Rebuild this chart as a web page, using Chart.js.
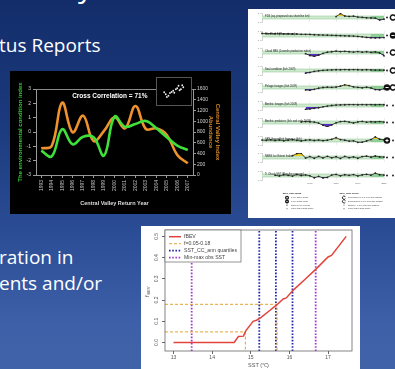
<!DOCTYPE html>
<html>
<head>
<meta charset="utf-8">
<title>Status Reports</title>
<script src="https://cdn.jsdelivr.net/npm/chart.js@4.4.1/dist/chart.umd.min.js"></script>
<style>
  html, body { margin: 0; padding: 0; }
  body {
    width: 395px; height: 369px; overflow: hidden; position: relative;
    background: linear-gradient(to bottom, #132d6a 0%, #1a387b 30%, #2a4c94 62%, #3e60a8 88%, #4063a8 100%);
    font-family: "Open Sans", sans-serif; color: #fff;
  }
  .txt { position: absolute; white-space: nowrap; }
  canvas { position: absolute; display: block; }
  #panel { position: absolute; left: 248px; top: 9px; width: 147px; height: 209px; background: #fff; overflow: hidden; }
</style>
</head>
<body>
<div class="txt" style="left:78px;top:-35px;font-size:30px">y</div>
<div class="txt" style="left:-1px;top:32px;font-size:19px">tus Reports</div>
<div class="txt" style="left:-1px;top:245px;font-size:19px;line-height:25.5px">ration in<br>ents and/or</div>

<canvas id="trend" width="221" height="143" style="left:10px;top:71px;background:#000"></canvas>
<canvas id="inset" width="34" height="27" style="left:157px;top:78px;background:#000;outline:1px solid #555"></canvas>
<div id="panel"></div>
<canvas id="sst" width="219" height="143" style="left:141px;top:226px;background:#fff"></canvas>

<script>
// -----------------------------------------------------------------
// Central Valley chart data
const returnYears = ['1993', '1994', '1995', '1996', '1997', '1998', '1999', '2000', '2001', '2002', '2003', '2004', '2005', '2006', '2007'];
const envIndex = [-1.3, -1.7, 0.2, -0.86, -0.33, -0.37, -1.65, 1.07, 0.37, 0.56, 0.77, 0.26, -0.37, -0.95, -1.26];
const cvAbundance = [496, 540, 1346, 794, 1104, 633, 819, 1073, 868, 1284, 856, 868, 744, 372, 217];

// inset scatter (index vs abundance)
const insetEnv = [-1.57, -1.36, -1.21, -1.0, -0.79, -0.57, -0.36, -0.21, 0.0, 0.18, 0.36, 0.5, 0.68, 0.86, 1.0];
const insetAbund = [745, 597, 395, 487, 690, 763, 855, 708, 966, 1040, 1224, 892, 966, 1260, 1113];

// -----------------------------------------------------------------
// SST / fBEV chart data
const sstPoints = [13, 14.57, 14.68, 14.81, 14.87, 15.06, 15.15, 15.26, 15.45, 15.67, 15.84, 15.92, 16.1, 16.4, 16.7, 17.0, 17.09, 17.47];
const fBev = [0, 0, 0.028, 0.03, 0.055, 0.1, 0.105, 0.117, 0.145, 0.177, 0.205, 0.21, 0.247, 0.297, 0.348, 0.403, 0.41, 0.5];
const fRange = [0.05, 0.18];
const sstAtF = [14.86, 15.68];
const sstQuartiles = [15.22, 15.65, 16.08];
const sstMinMax = [13.47, 16.68];
const sstAxis = [12.78, 17.62];
const fAxis = [-0.04, 0.53];
const sstLegend = ['fBEV', 'f=0.05-0.18', 'SST_CC_ann quartiles', 'Min-max obs SST'];

// -----------------------------------------------------------------
// indicator strips data (standardised, band = mean +/- 1 s.d.)
const stripYears = ['1955', '1957', '1959', '1961', '1963', '1965', '1967', '1969', '1971', '1973', '1975', '1977', '1979', '1981', '1983',
  '1985', '1987', '1989', '1991', '1993', '1995', '1997', '1999', '2001', '2003', '2005', '2007', '2009', '2011'];
const markYears = ['1977', '1989', '1999', '2011'];
const bandLo = -1;
const bandHi = 1;
const recentStart = 25;

const strip1 = [...Array(17).fill(null), 0.6, 2.6, 1.0, 0.7, 0.9, 0.3, 0.1, -0.2, -0.3, -0.4, -1.7, -1.1];
const strip2 = [1.4, 1.3, 1.3, 1.2, 1.2, 1.1, 1.1, 1.0, 1.0, 0.8, 0.8, 0.7, 0.5, 0.4, 0.3, 0.2, 0.1, 0.0, -0.1, -0.2, -0.3, -0.4, -0.6, -0.9, -1.3, -1.5, -1.6, -1.5, -1.4];
const strip3 = [...Array(10).fill(null), -0.8, -2.0, -2.6, -1.8, -0.6, 0.2, 0.5, 0.9, 0.6, 0.8, 0.5, 0.3, 0.6, 0.2, 0.5, 0.1, 0.4, -0.3, -2.2];
const strip4 = [...Array(10).fill(null), -1.8, -1.3, -0.6, -0.2, 0.1, 0.3, 0.4, 0.5, 0.5, 0.6, 0.5, 0.6, 0.5, 0.4, 0.5, 0.4, 0.3, 0.3, 0.2];
const strip5 = [...Array(10).fill(null), -1.6, -1.8, -1.2, -0.5, 0.0, 0.2, 0.1, 0.3, 0.9, 1.8, 1.3, 0.4, 0.1, -0.2, 0.2, -0.3, -1.4, -1.6, -0.8];
const strip6 = [...Array(10).fill(null), -2.6, -2.3, -1.9, -1.5, -0.9, -0.4, 0.0, 0.3, 0.4, 0.5, 0.6, 0.6, 0.5, 0.6, 0.5, 0.6, 0.5, 0.6, 0.5];
const strip7 = [...Array(9).fill(null), 0.4, 0.6, 0.5, 0.3, -0.4, -1.8, -2.9, -1.6, -0.2, 0.6, 0.8, 0.3, -0.3, 0.4, 0.7, 0.2, 0.5, 0.4, 0.6, 0.3];
const strip8 = [0.3, 0.1, 0.4, 0.0, 0.3, -0.2, 0.2, 0.5, 0.1, -0.3, 0.2, 0.4, 0.0, 0.3, -0.1, 0.2, 0.8, 1.9, 0.6, 0.2, -0.4, -0.2, -1.2, -1.1, -0.3, 0.6, 2.4, 0.9, 0.4];
const strip9 = [...Array(7).fill(null), 1.2, 2.6, 2.8, -0.4, 0.6, -0.5, 0.7, -0.3, 0.8, -0.2, 0.5, -0.6, 0.7, -0.1, 0.4, -0.5, 0.6, 0.9, 0.2, 1.0, 0.4, 0.3];
const strip10 = [...Array(3).fill(null), 0.2, -0.3, 0.5, 0.1, -0.4, 0.6, 0.0, 0.4, -0.2, -1.5, -0.6, -1.6, -1.3, 0.3, 0.7, -0.2, 0.5, 0.1, 0.6, -0.3, 0.4, 0.8, 0.2, 1.6, 0.5, 0.3];
const stripSeries = [strip1, strip2, strip3, strip4, strip5, strip6, strip7, strip8, strip9, strip10];

const stripTitles = [
  'FDS (sq. proposed sea shoreline km)', 'The Real E (Recruitment)', 'Cloud SBS (Juvenile production index)',
  'Seal condition (fish 2009)', 'Pelagic forages (fish 2009)', 'Benthic forages (fish 2009)',
  'Benthic predators (fish and crab 2009)', 'SBS Groundfish biomass (fish)', 'NBSS Ice Extent Index', 'Ti Chuck SST (Pan-the average)'
];
const stripMarks = [['dot', 'up'], ['dot', 'minus'], ['dot', 'up'], ['dot', 'up'], ['minus', 'down'],
  ['dot', 'dot'], ['dot', 'dot'], ['plus', 'dot'], ['dot', 'dot'], ['dot', 'dot']];

const meanLegend = ['1 s.d. above mean', '1 s.d. below mean', 'within 1 s.d. of mean', 'fewer than 5 data points'];
const trendLegend = ['increased by 1 s.d. over time window', 'decreased by 1 s.d. over time window', 'change < 1 s.d. over time window', 'fewer than 5 data points'];

Chart.defaults.font.family = '"Liberation Sans", Arial, sans-serif';

// -----------------------------------------------------------------
// helpers
function drawMark(ctx, kind, x, y, r) {
  ctx.save();
  ctx.fillStyle = '#111';
  ctx.strokeStyle = '#111';
  if (kind === 'dot') {
    ctx.beginPath(); ctx.arc(x, y, Math.max(0.6, r * 0.28), 0, Math.PI * 2); ctx.fill();
  } else if (kind === 'plus' || kind === 'minus') {
    ctx.beginPath(); ctx.arc(x, y, r, 0, Math.PI * 2); ctx.fill();
    ctx.strokeStyle = '#fff'; ctx.lineWidth = r * 0.3;
    ctx.beginPath(); ctx.moveTo(x - r * 0.5, y); ctx.lineTo(x + r * 0.5, y);
    if (kind === 'plus') { ctx.moveTo(x, y - r * 0.5); ctx.lineTo(x, y + r * 0.5); }
    ctx.stroke();
  } else if (kind === 'up' || kind === 'down') {
    ctx.lineWidth = r * 0.45;
    ctx.beginPath(); ctx.arc(x, y, r * 0.8, 0.5, Math.PI * 2 - 0.5); ctx.stroke();
  } else if (kind === 'flat') {
    ctx.lineWidth = 0.4;
    ctx.beginPath(); ctx.moveTo(x - r * 0.6, y); ctx.lineTo(x + r * 0.6, y); ctx.stroke();
  } else if (kind === 'cross') {
    ctx.lineWidth = 0.4;
    ctx.beginPath(); ctx.moveTo(x - r * 0.4, y - r * 0.4); ctx.lineTo(x + r * 0.4, y + r * 0.4);
    ctx.moveTo(x + r * 0.4, y - r * 0.4); ctx.lineTo(x - r * 0.4, y + r * 0.4); ctx.stroke();
  }
  ctx.restore();
}

// -----------------------------------------------------------------
// Central Valley return chart
const frameLine = {
  id: 'frameLine',
  afterDraw(chart, args, opts) {
    const { ctx, chartArea: a } = chart;
    ctx.save();
    ctx.strokeStyle = opts.color;
    ctx.lineWidth = 1;
    ctx.beginPath();
    ctx.moveTo(a.left, a.top + 0.5);
    ctx.lineTo(a.right, a.top + 0.5);
    ctx.stroke();
    ctx.fillStyle = '#fff';
    ctx.font = 'bold 6.5px "Liberation Sans"';
    ctx.textAlign = 'center';
    ctx.textBaseline = 'middle';
    ctx.fillText(opts.text, a.left + (a.right - a.left) * 0.47, a.top + 7);
    ctx.restore();
  }
};

new Chart(document.getElementById('trend'), {
  type: 'line',
  data: {
    labels: returnYears,
    datasets: [
      { label: 'Environmental condition index', data: envIndex, yAxisID: 'y', borderColor: '#3fe03a', borderWidth: 2.6, pointRadius: 0, tension: 0.4 },
      { label: 'Central Valley Index Abundance', data: cvAbundance, yAxisID: 'y1', borderColor: '#f0922c', borderWidth: 2.6, pointRadius: 0, tension: 0.4 },
    ],
  },
  options: {
    responsive: false,
    animation: false,
    events: [],
    layout: { padding: { top: 18 } },
    plugins: {
      legend: { display: false },
      tooltip: { enabled: false },
      frameLine: { color: '#8a8a8a', text: 'Cross Correlation = 71%' },
    },
    scales: {
      x: {
        offset: true,
        afterFit: (s) => { s.height = 39; },
        grid: { drawOnChartArea: false, tickLength: 3, color: '#999' },
        border: { color: '#999' },
        ticks: { color: '#c8c8c8', font: { size: 5 }, minRotation: 90, maxRotation: 90, autoSkip: false, padding: 2 },
        title: { display: true, text: 'Central Valley Return Year', color: '#ddd', font: { size: 5.5, weight: 'bold' }, padding: { top: 2, bottom: 7 } },
      },
      y: {
        min: -3, max: 3,
        afterFit: (s) => { s.width = 26; },
        grid: { drawOnChartArea: false, tickLength: 3, color: '#999' },
        border: { color: '#999' },
        ticks: { stepSize: 1, color: '#d0d0d0', font: { size: 5 }, padding: 2 },
        title: { display: true, text: 'The environmental condition index', color: '#36c936', font: { size: 6, weight: 'bold' }, padding: { top: 7, bottom: 0 } },
      },
      y1: {
        position: 'right',
        min: 0, max: 1600,
        afterFit: (s) => { s.width = 38; },
        grid: { drawOnChartArea: false, tickLength: 3, color: '#999' },
        border: { color: '#999' },
        ticks: { stepSize: 200, color: '#d0d0d0', font: { size: 5 }, padding: 1, callback: (v) => String(v) },
        title: { display: true, text: ['Central Valley Index', 'Abundance'], color: '#d98a2b', font: { size: 6, weight: 'bold' }, padding: { top: 10, bottom: 0 } },
      },
    },
  },
  plugins: [frameLine],
});

new Chart(document.getElementById('inset'), {
  type: 'scatter',
  data: {
    datasets: [{ data: insetEnv.map((v, i) => ({ x: v, y: insetAbund[i] })), pointRadius: 0.9, pointBorderWidth: 0, pointBackgroundColor: '#eee' }],
  },
  options: {
    responsive: false,
    animation: false,
    events: [],
    plugins: { legend: { display: false }, tooltip: { enabled: false } },
    scales: {
      x: { display: false, min: -2, max: 1.5 },
      y: { display: false, min: 100, max: 1500 },
    },
  },
});

// -----------------------------------------------------------------
// indicator strips panel
const stripDecor = {
  id: 'stripDecor',
  beforeDatasetsDraw(chart) {
    const { ctx, chartArea: a, scales: { x, y } } = chart;
    const top = y.getPixelForValue(bandHi);
    const bot = y.getPixelForValue(bandLo);
    const xr = x.getPixelForValue(recentStart);
    ctx.save();
    ctx.fillStyle = '#cfeacf';
    ctx.fillRect(a.left, top, a.right - a.left, bot - top);
    ctx.fillStyle = '#90cf97';
    ctx.fillRect(xr, top, a.right - xr, bot - top);
    ctx.strokeStyle = '#86c28d';
    ctx.lineWidth = 0.5;
    ctx.beginPath();
    ctx.moveTo(a.left, top); ctx.lineTo(a.right, top);
    ctx.moveTo(a.left, bot); ctx.lineTo(a.right, bot);
    ctx.stroke();
    ctx.restore();
  },
  afterDraw(chart, args, opts) {
    const { ctx, chartArea: a, scales: { y } } = chart;
    const mid = y.getPixelForValue(0);
    ctx.save();
    ctx.fillStyle = '#222';
    ctx.font = '2.7px "Liberation Sans"';
    ctx.textBaseline = 'middle';
    ctx.fillText(opts.title, a.left + 3, mid - 1.2);
    ctx.restore();
    drawMark(ctx, opts.marks[0], a.right + 3, mid, 3.2);
    drawMark(ctx, opts.marks[1], a.right + 9, mid, 3.2);
  },
};

function stripConfig(series, i) {
  return {
    type: 'line',
    data: {
      labels: stripYears,
      datasets: [
        { data: series, borderColor: '#222', borderWidth: 0.8, pointRadius: 0.9, pointBorderWidth: 0, pointBackgroundColor: '#222', tension: 0, fill: false },
        { data: series, borderWidth: 0, pointRadius: 0, tension: 0, fill: { target: { value: bandHi }, above: '#f1d11e', below: 'rgba(0,0,0,0)' } },
        { data: series, borderWidth: 0, pointRadius: 0, tension: 0, fill: { target: { value: bandLo }, above: 'rgba(0,0,0,0)', below: '#5a2fc9' } },
      ],
    },
    options: {
      responsive: false,
      animation: false,
      events: [],
      layout: { padding: { right: 11 } },
      plugins: {
        legend: { display: false },
        tooltip: { enabled: false },
        stripDecor: { title: stripTitles[i], marks: stripMarks[i] },
      },
      scales: {
        x: {
          ticks: { display: false },
          border: { display: false },
          grid: { drawTicks: false, lineWidth: 0.5, color: (c) => (markYears.includes(stripYears[c.index]) ? '#dcdcdc' : 'rgba(0,0,0,0)') },
        },
        y: {
          min: -3, max: 3,
          afterFit: (s) => { s.width = 14; },
          ticks: { stepSize: 3, includeBounds: false, font: { size: 2.2 }, color: '#888', padding: 1 },
          grid: { drawOnChartArea: false, tickLength: 2, color: '#aaa', lineWidth: 0.5 },
          border: { color: '#aaa', width: 0.5 },
        },
      },
    },
    plugins: [stripDecor],
  };
}

const panel = document.getElementById('panel');
stripSeries.forEach((series, i) => {
  const cv = document.createElement('canvas');
  cv.width = 147;
  cv.height = 17;
  cv.style.left = '0px';
  cv.style.top = (i * 17.55) + 'px';
  panel.appendChild(cv);
  new Chart(cv, stripConfig(series, i));
});

const panelLegend = {
  id: 'panelLegend',
  afterDraw(chart, args, opts) {
    const { ctx } = chart;
    opts.columns.forEach((col) => {
      ctx.save();
      ctx.fillStyle = '#222';
      ctx.font = 'bold 2.4px "Liberation Sans"';
      ctx.textAlign = 'center';
      ctx.textBaseline = 'middle';
      ctx.fillText(col.title, col.x + 5, 12);
      ctx.restore();
      col.items.forEach((txt, j) => {
        const yy = 16.7 + j * 3.7;
        drawMark(ctx, col.marks[j], col.x, yy, j < 2 ? 2 : 1.2);
        ctx.save();
        ctx.fillStyle = '#333';
        ctx.font = '2.1px "Liberation Sans"';
        ctx.textBaseline = 'middle';
        ctx.fillText(txt, col.x + 4, yy);
        ctx.restore();
      });
    });
  },
};

const footer = document.createElement('canvas');
footer.width = 147;
footer.height = 37;
footer.style.left = '0px';
footer.style.top = '172px';
panel.appendChild(footer);
new Chart(footer, {
  type: 'line',
  data: { labels: stripYears, datasets: [] },
  options: {
    responsive: false,
    animation: false,
    events: [],
    layout: { padding: { left: 14, right: 11, top: 1 } },
    plugins: {
      legend: { display: false },
      tooltip: { enabled: false },
      panelLegend: {
        columns: [
          { title: '2007_2011 Mean', x: 39, items: meanLegend, marks: ['plus', 'minus', 'dot', 'cross'] },
          { title: '2007_2011 Trend', x: 96, items: trendLegend, marks: ['up', 'down', 'flat', 'cross'] },
        ],
      },
    },
    scales: {
      x: {
        position: 'top',
        border: { display: false },
        grid: { display: false },
        ticks: { autoSkip: false, maxRotation: 0, font: { size: 2.4 }, color: '#555', padding: 0, callback: (v, i) => (markYears.includes(stripYears[i]) ? stripYears[i] : '') },
      },
      y: { display: false },
    },
  },
  plugins: [panelLegend],
});

// -----------------------------------------------------------------
// fBEV vs SST chart (R style)
const rPlot = {
  id: 'rPlot',
  afterDraw(chart) {
    const { ctx, chartArea: a, scales: { y } } = chart;
    ctx.save();
    ctx.strokeStyle = '#666';
    ctx.lineWidth = 0.8;
    ctx.strokeRect(a.left, a.top, a.right - a.left, a.bottom - a.top);

    // y tick labels, rotated like R
    ctx.fillStyle = '#555';
    ctx.font = '5px "Liberation Sans"';
    ctx.textAlign = 'center';
    ctx.textBaseline = 'middle';
    y.ticks.forEach((t) => {
      ctx.save();
      ctx.translate(a.left - 8, y.getPixelForValue(t.value));
      ctx.rotate(-Math.PI / 2);
      ctx.fillText(t.label, 0, 0);
      ctx.restore();
    });

    // y title f with subscript BEV
    ctx.save();
    ctx.translate(6, 66);
    ctx.rotate(-Math.PI / 2);
    ctx.textAlign = 'left';
    ctx.font = '6px "Liberation Sans"';
    ctx.fillText('f', -5, 0);
    ctx.font = '4px "Liberation Sans"';
    ctx.fillText('BEV', -2.5, 1.5);
    ctx.restore();

    // legend box (topleft)
    const items = chart.data.datasets.filter((d) => d.label);
    const lx = a.left;
    const ly = a.top;
    ctx.fillStyle = '#fff';
    ctx.fillRect(lx, ly, 76, 32);
    ctx.strokeStyle = '#666';
    ctx.lineWidth = 0.7;
    ctx.strokeRect(lx, ly, 76, 32);
    items.forEach((d, i) => {
      const yy = ly + 6.7 + i * 7;
      ctx.strokeStyle = d.borderColor;
      ctx.lineWidth = d.borderWidth;
      ctx.setLineDash(d.borderDash || []);
      ctx.beginPath();
      ctx.moveTo(lx + 4, yy);
      ctx.lineTo(lx + 16, yy);
      ctx.stroke();
      ctx.setLineDash([]);
      ctx.fillStyle = '#444';
      ctx.font = '5.2px "Liberation Sans"';
      ctx.textAlign = 'left';
      ctx.fillText(d.label, lx + 19, yy);
    });
    ctx.restore();
  },
};

const sstSets = [
  { label: sstLegend[0], data: sstPoints.map((v, i) => ({ x: v, y: fBev[i] })), borderColor: '#e2443c', borderWidth: 1.5 },
];
fRange.forEach((f, i) => {
  sstSets.push({
    label: i === 0 ? sstLegend[1] : '',
    data: [{ x: sstAxis[0], y: f }, { x: sstAtF[i], y: f }, { x: sstAtF[i], y: fAxis[0] }],
    borderColor: '#e3a531', borderWidth: 1, borderDash: [3, 2],
  });
});
sstQuartiles.forEach((q, i) => {
  sstSets.push({
    label: i === 0 ? sstLegend[2] : '',
    data: [{ x: q, y: fAxis[0] }, { x: q, y: fAxis[1] }],
    borderColor: '#2326a6', borderWidth: 1.8, borderDash: [1.6, 1.6],
  });
});
sstMinMax.forEach((m, i) => {
  sstSets.push({
    label: i === 0 ? sstLegend[3] : '',
    data: [{ x: m, y: fAxis[0] }, { x: m, y: fAxis[1] }],
    borderColor: '#a23ad2', borderWidth: 1.8, borderDash: [1.6, 1.6],
  });
});
sstSets.forEach((d) => { d.showLine = true; d.pointRadius = 0; d.tension = 0; });

new Chart(document.getElementById('sst'), {
  type: 'scatter',
  data: { datasets: sstSets },
  options: {
    responsive: false,
    animation: false,
    events: [],
    layout: { padding: { top: 4, right: 8 } },
    plugins: { legend: { display: false }, tooltip: { enabled: false } },
    scales: {
      x: {
        min: sstAxis[0], max: sstAxis[1],
        afterFit: (s) => { s.height = 18; },
        border: { display: false },
        grid: { drawOnChartArea: false, tickLength: 3, color: '#666' },
        ticks: { stepSize: 1, includeBounds: false, color: '#555', font: { size: 5 }, padding: 1 },
        title: { display: true, text: 'SST (℃)', color: '#555', font: { size: 5.5 }, padding: 0 },
      },
      y: {
        min: fAxis[0], max: fAxis[1],
        afterFit: (s) => { s.width = 24; },
        border: { display: false },
        grid: { drawOnChartArea: false, tickLength: 3, color: '#666' },
        ticks: { display: false, stepSize: 0.1, includeBounds: false, callback: (v) => v.toFixed(1) },
      },
    },
  },
  plugins: [rPlot],
});
</script>
</body>
</html>
